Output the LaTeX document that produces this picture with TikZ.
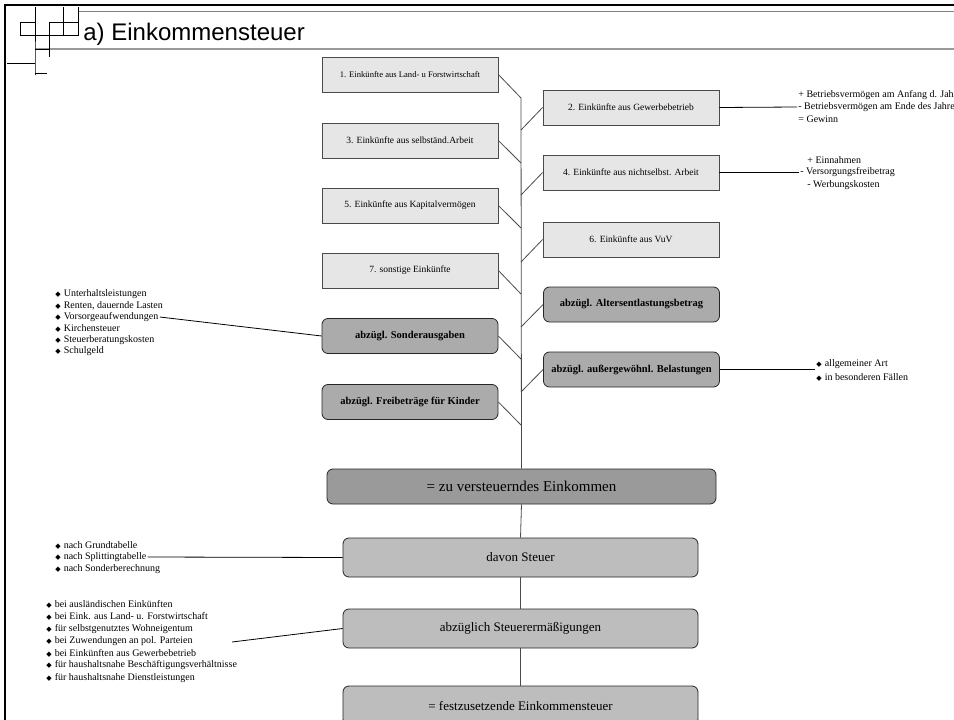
\documentclass[tikz,border=0pt]{standalone}
\usepackage{fontspec}
\setmainfont{Liberation Serif}
\newfontfamily\titlefont{Liberation Sans}
\newfontfamily\symfont{DejaVu Sans}
\usepackage{tikz}
\usetikzlibrary{calc,positioning}
\definecolor{rand}{HTML}{4A4A4A}
\definecolor{hell}{HTML}{E6E6E6}
\definecolor{mittel}{HTML}{ABABAB}
\definecolor{dunkel}{HTML}{9A9A9A}
\definecolor{stufe}{HTML}{BDBDBD}
\newcommand{\bul}{{\symfont\fontsize{7}{7}\selectfont ◆}\hspace{3pt}}

\begin{document}
\begin{tikzpicture}[x=1pt,y=-1pt,thick,
  einkunft/.style={draw=rand, fill=hell, line width=0.8pt, minimum width=176pt, minimum height=35pt, inner sep=0pt, font=\fontsize{9.5}{11}\selectfont},
  abzug/.style={einkunft, draw=black!85, fill=mittel, rounded corners=6pt, font=\fontsize{10.5}{12}\selectfont\bfseries},
  summe/.style={draw=black!85, fill=dunkel, line width=0.8pt, rounded corners=6pt, minimum width=389pt, minimum height=35pt, font=\fontsize{15}{17}\selectfont},
  stufebox/.style={summe, fill=stufe, minimum width=355pt, minimum height=39pt, font=\fontsize{13}{15}\selectfont},
  notiz/.style={anchor=west, inner sep=1pt, font=\fontsize{10}{12}\selectfont},
  verb/.style={draw=rand, line width=0.8pt},
  hinweis/.style={draw=black, line width=0.8pt}]
\useasboundingbox (0,0) rectangle (954,720);

\draw[line width=2.5pt] (5,720) -- (5,5) -- (954,5);
\draw[gray, line width=0.6pt] (78,11) -- (954,11);
\draw[gray!80, line width=1.5pt] (35,49) -- (954,49);
\draw[line width=0.6pt] (20,22) rectangle (35,35);
\draw[line width=0.6pt] (7,63) -- (35,63) (35,7) -- (35,75) -- (35,73) -- (47,73);
\draw[line width=0.6pt] (49,57) -- (49,22) -- (78,22) (78,7) -- (78,35) -- (20,35) (63,7) -- (63,35) (35,49) -- (49,49);
\node[anchor=base west, inner sep=0pt, font=\titlefont\fontsize{24}{26}\selectfont] (title) at (83,40) {a) Einkommensteuer};

\node[einkunft, font=\fontsize{8.6}{10}\selectfont] (e1) at (410,74.5) {1. Einkünfte aus Land- u Forstwirtschaft};
\node[einkunft] (e2) at (631,107.5) {2. Einkünfte aus Gewerbebetrieb};
\node[einkunft] (e3) at (410,140.5) {3. Einkünfte aus selbständ.Arbeit};
\node[einkunft] (e4) at (631,172.5) {4. Einkünfte aus nichtselbst. Arbeit};
\node[einkunft] (e5) at (410,205.5) {5. Einkünfte aus Kapitalvermögen};
\node[einkunft] (e6) at (631,239.5) {6. Einkünfte aus VuV};
\node[einkunft] (e7) at (410,270.5) {7. sonstige Einkünfte};

\node[abzug] (alters) at (631.5,304.5) {abzügl. Altersentlastungsbetrag};
\node[abzug] (sonder) at (410,336) {abzügl. Sonderausgaben};
\node[abzug] (aussergew) at (631.5,369.5) {abzügl. außergewöhnl. Belastungen};
\node[abzug] (kinder) at (410,402) {abzügl. Freibeträge für Kinder};

\node[summe] (zve) at (521.5,486.5) {= zu versteuerndes Einkommen};
\node[stufebox] (steuer) at (520.5,557.5) {davon Steuer};
\node[stufebox] (ermaess) at (520.5,628.5) {abzüglich Steuerermäßigungen};
\node[stufebox] (fest) at (520.5,705.5) {= festzusetzende Einkommensteuer};

\foreach \n/\y in {1/98,2/130,3/163,4/195,5/228,6/262,7/294,8/327,9/359,10/392,11/425}
  \coordinate (s\n) at (521,\y);

\draw[verb] (s1) -- (zve.north);
\draw[verb] (e1.east) -- (s1);
\draw[verb] (s2) -- (e2.west);
\draw[verb] (e3.east) -- (s3);
\draw[verb] (s4) -- (e4.west);
\draw[verb] (e5.east) -- (s5);
\draw[verb] (s6) -- (e6.west);
\draw[verb] (e7.east) -- (s7);
\draw[verb] (s8) -- (alters.west);
\draw[verb] (sonder.east) -- (s9);
\draw[verb] (s10) -- (aussergew.west);
\draw[verb] (kinder.east) -- (s11);
\draw[verb] (zve.south) -- (steuer.north);
\draw[verb] (steuer.south) -- (ermaess.north);
\draw[verb] (ermaess.south) -- (fest.north);

\node[notiz] (gw1) at (797,95) {+ Betriebsvermögen am Anfang d. Jahres};
\node[notiz] (gw2) at (797,107) {- Betriebsvermögen am Ende des Jahres};
\node[notiz] (gw3) at (797,119) {= Gewinn};
\draw[hinweis] (e2.east) -- (gw2.west);

\node[notiz] (ns1) at (806,160) {+ Einnahmen};
\node[notiz] (ns2) at (799,172.5) {- Versorgungsfreibetrag};
\node[notiz] (ns3) at (806,185) {- Werbungskosten};
\draw[hinweis] (e4.east) -- (ns2.west);

\foreach \t [count=\i] in {Unterhaltsleistungen, {Renten, dauernde Lasten}, Vorsorgeaufwendungen, Kirchensteuer, Steuerberatungskosten, Schulgeld}
  \node[notiz] (so\i) at (54,282.5+11.5*\i) {\bul\t};
\draw[hinweis] (so3.east) -- (sonder.west);

\node[notiz] (ag1) at (815,364) {\bul allgemeiner Art};
\node[notiz] (ag2) at (815,377) {\bul in besonderen Fällen};
\draw[hinweis] (aussergew.east) -- (aussergew.east -| ag1.west);

\foreach \t [count=\i] in {nach Grundtabelle, nach Splittingtabelle, nach Sonderberechnung}
  \node[notiz] (st\i) at (54,533+12*\i) {\bul\t};
\draw[hinweis] (st2.east) -- (steuer.west);

\foreach \t [count=\i] in {bei ausländischen Einkünften, bei Eink. aus Land- u. Forstwirtschaft, für selbstgenutztes Wohneigentum, bei Zuwendungen an pol. Parteien, bei Einkünften aus Gewerbebetrieb, für haushaltsnahe Beschäftigungsverhältnisse, für haushaltsnahe Dienstleistungen}
  \node[notiz] (er\i) at (45,591.7+12.3*\i) {\bul\t};
\coordinate (erx) at (232,642);
\draw[hinweis] (erx) -- (ermaess.west);
\end{tikzpicture}
\end{document}
